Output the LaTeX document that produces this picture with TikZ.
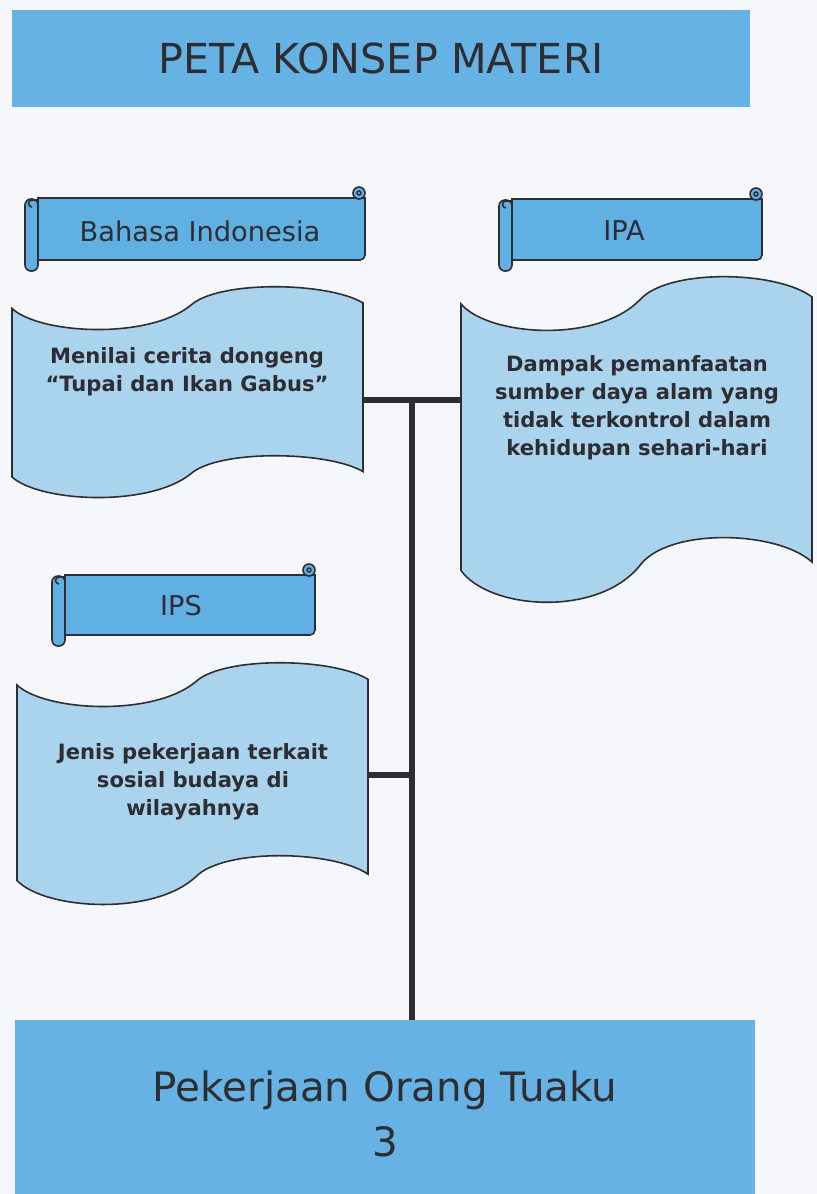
\documentclass[tikz,border=0pt]{standalone}
\usepackage{fontspec}
\setmainfont{DejaVu Sans}
\usepackage{tikz}
\usepackage{xcolor}
\usetikzlibrary{positioning,calc}

\definecolor{barblue}{RGB}{102,178,228}
\definecolor{ribbonblue}{RGB}{96,176,228}
\definecolor{sheetblue}{RGB}{170,212,238}
\definecolor{inkgray}{RGB}{45,45,50}
\definecolor{paper}{RGB}{246,247,250}

\tikzset{
  bar/.style={fill=barblue, draw=none, text=inkgray, align=center},
  bartext/.style={text=inkgray, align=center},
  sheet/.style={fill=sheetblue, draw=inkgray, line width=0.9pt},
  ribbon/.style={fill=ribbonblue, draw=inkgray, line width=0.9pt},
  sheettext/.style={text=inkgray, align=center, font=\bfseries\fontsize{12}{15.9}\selectfont},
  ribbontext/.style={text=inkgray, font=\fontsize{15.5}{18}\selectfont},
  link/.style={draw=inkgray, line width=3pt}
}

% wavy sheet: x0, x1, top, bottom, top wave, bottom wave
\newcommand{\wavesheet}[6]{%
  \filldraw[sheet] ({#1},{#3+0.5*#5})
    .. controls ({#1+0.08*(#2-#1)},{#3+1.1*#5}) and ({#1+0.39*(#2-#1)},{#3+1.23*#5}) .. ({#1+0.51*(#2-#1)},{#3+0.42*#5})
    .. controls ({#1+0.59*(#2-#1)},{#3-0.16*#5}) and ({#1+0.90*(#2-#1)},{#3-0.12*#5}) .. ({#2},{#3+0.37*#5})
    -- ({#2},{#4-0.63*#6})
    .. controls ({#1+0.90*(#2-#1)},{#4-1.12*#6}) and ({#1+0.59*(#2-#1)},{#4-1.16*#6}) .. ({#1+0.51*(#2-#1)},{#4-0.58*#6})
    .. controls ({#1+0.39*(#2-#1)},{#4+0.23*#6}) and ({#1+0.08*(#2-#1)},{#4+0.1*#6}) .. ({#1},{#4-0.5*#6})
    -- cycle;}

% scroll banner: body x0, y0, x1, y1
\newcommand{\scrollbanner}[4]{%
  \filldraw[ribbon] (#1,#2) -- (#3,#2) [rounded corners=0.1cm] -- (#3,#4) [sharp corners] -- (#1,#4) -- cycle;
  \filldraw[ribbon, rounded corners=0.12cm] ({#1-13},{#2+1}) rectangle ({#1},{#4+11});
  \draw[inkgray, line width=0.9pt] ({#1-6},{#2+9}) arc (270:90:0.07cm) -- ({#1},{#2+2});
  \filldraw[ribbon] ({#3-6},{#2-5}) circle (0.12cm);
  \draw[inkgray, line width=0.8pt] ({#3-6},{#2-5}) circle (0.04cm);}

\begin{document}
\begin{tikzpicture}[x=0.02cm, y=-0.02cm]
    % page
    \fill[paper] (0,0) rectangle (817,1194);
    \useasboundingbox (0,0) rectangle (817,1194);

    % title bar
    \node[bar, minimum width=14.76cm, minimum height=1.94cm,
          font=\fontsize{23.5}{26}\selectfont] (title) at (381,58.5) {PETA KONSEP MATERI};

    % topic bar
    \node[bar, minimum width=14.8cm, minimum height=3.48cm] (topic) at (385,1107) {};
    \node[bartext, font=\fontsize{23}{31}\selectfont] (topic-label) at (385,1114) {Pekerjaan Orang Tuaku\\3};

    % banners
    \scrollbanner{38}{198}{365}{260}
    \node[ribbontext] (bi-label) at (200,231) {Bahasa Indonesia};
    \scrollbanner{512}{199}{762}{260}
    \node[ribbontext] (ipa-label) at (624,231) {IPA};
    \scrollbanner{65}{575}{315}{635}
    \node[ribbontext] (ips-label) at (181,606) {IPS};

    % sheets
    \wavesheet{12}{363}{287}{498}{43}{42}
    \node[sheettext] (bi) at (187,372) {Menilai cerita dongeng\\``Tupai dan Ikan Gabus''};
    \wavesheet{461}{812}{277}{603}{54}{65}
    \node[sheettext] (ipa) at (637,408) {Dampak pemanfaatan\\sumber daya alam yang\\tidak terkontrol dalam\\kehidupan sehari-hari};
    \wavesheet{17}{368}{663}{905}{44}{49}
    \node[sheettext] (ips) at (193,782) {Jenis pekerjaan terkait\\sosial budaya di\\wilayahnya};

    % connectors
    \coordinate (bi-e) at (363,400);
    \coordinate (ipa-w) at (461,400);
    \coordinate (ips-e) at (368,775);
    \coordinate (hub) at (412,400);
    \draw[link] (bi-e) -- (ipa-w);
    \draw[link] (hub) -- (hub |- topic.north);
    \draw[link] (ips-e) -- (hub |- ips-e);
\end{tikzpicture}
\end{document}
